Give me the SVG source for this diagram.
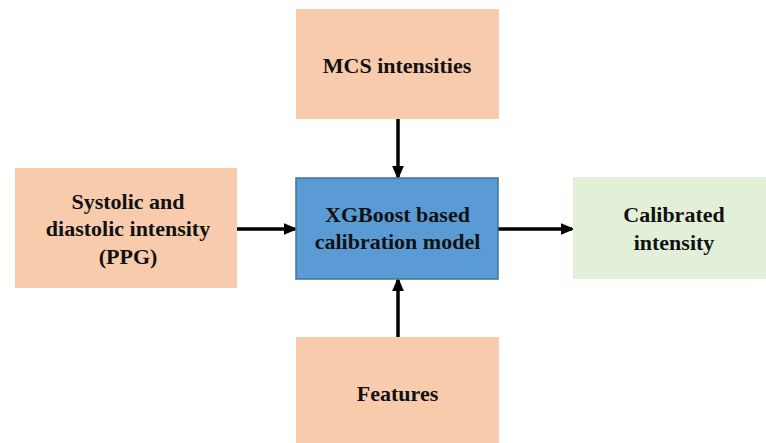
<svg xmlns="http://www.w3.org/2000/svg" width="766" height="443" viewBox="0 0 766 443">
<style>
.peach{fill:#F8CBAD;}
.blue{fill:#5B9BD5;stroke:#41719C;stroke-width:1.5;}
.green{fill:#E2F0D9;}
.t{font-family:'Liberation Serif','Times New Roman',serif;font-weight:bold;font-size:22px;fill:#111;text-anchor:middle;}
.conn{stroke:#000;stroke-width:3.5;fill:none;marker-end:url(#ah);}
</style>
<defs>
<marker id="ah" markerWidth="4" markerHeight="4" refX="3.2" refY="2" orient="auto" markerUnits="strokeWidth" viewBox="0 0 4 4">
<path d="M0,0.3 L4,2 L0,3.7 Z" fill="#000"/>
</marker>
</defs>
<rect width="766" height="443" fill="#fff"/>
<g id="connectors">
<line class="conn" x1="398" y1="119" x2="398" y2="177"/>
<line class="conn" x1="237" y1="229" x2="295" y2="229"/>
<line class="conn" x1="498" y1="229" x2="572" y2="229"/>
<line class="conn" x1="398" y1="337" x2="398" y2="280"/>
</g>
<g id="mcs">
<rect class="peach" x="296" y="9" width="203" height="110"/>
<text class="t" x="397" y="73">MCS intensities</text>
</g>
<g id="ppg">
<rect class="peach" x="15" y="168" width="222" height="120"/>
<text class="t" x="128" y="209">Systolic and</text>
<text class="t" x="128" y="236">diastolic intensity</text>
<text class="t" x="128" y="264">(PPG)</text>
</g>
<g id="xgboost">
<rect class="blue" x="296" y="178" width="202" height="101"/>
<text class="t" x="397.5" y="222">XGBoost based</text>
<text class="t" x="397.5" y="249">calibration model</text>
</g>
<g id="calibrated">
<rect class="green" x="573" y="177" width="193" height="102"/>
<text class="t" x="674" y="222">Calibrated</text>
<text class="t" x="674" y="250">intensity</text>
</g>
<g id="features">
<rect class="peach" x="296" y="337" width="203" height="106"/>
<text class="t" x="397.5" y="401">Features</text>
</g>
</svg>
